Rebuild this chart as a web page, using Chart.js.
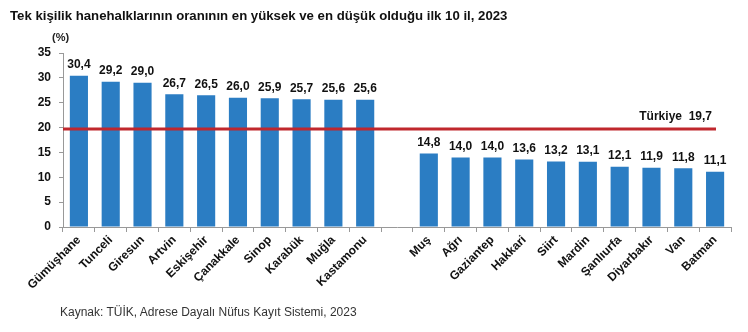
<!DOCTYPE html>
<html lang="tr">
<head>
<meta charset="utf-8">
<title>Tek kişilik hanehalkları</title>
<script src="https://cdn.jsdelivr.net/npm/chart.js@4"></script>
<style>
  html, body { margin:0; padding:0; background:#fff; }
  #wrap { position:relative; width:748px; height:332px; font-family:"Liberation Sans", Arial, sans-serif; }
  #baslik { position:absolute; left:10px; top:8px; font-size:13.2px; font-weight:bold; color:#111; }
  #birim { position:absolute; left:52px; top:31px; font-size:11px; font-weight:bold; color:#222; }
  #kaynak { position:absolute; left:60px; top:305px; font-size:12px; color:#333; }
  canvas { position:absolute; left:0; top:0; }
</style>
</head>
<body>
<div id="wrap">
  <canvas id="ilChart" width="748" height="332"></canvas>
  <div id="baslik">Tek kişilik hanehalklarının oranının en yüksek ve en düşük olduğu ilk 10 il, 2023</div>
  <div id="birim">(%)</div>
  <div id="kaynak">Kaynak: TÜİK, Adrese Dayalı Nüfus Kayıt Sistemi, 2023</div>
</div>
<script>
// en yüksek 10 il, boşluk, en düşük 10 il
const iller = ["Gümüşhane","Tunceli","Giresun","Artvin","Eskişehir","Çanakkale","Sinop","Karabük","Muğla","Kastamonu",
  "",
  "Muş","Ağrı","Gaziantep","Hakkari","Siirt","Mardin","Şanlıurfa","Diyarbakır","Van","Batman"];
const oranlar = [30.4,29.2,29.0,26.7,26.5,26.0,25.9,25.7,25.6,25.6,
  null,
  14.8,14.0,14.0,13.6,13.2,13.1,12.1,11.9,11.8,11.1];
const turkiye = 19.7;
const yTicks = [0,5,10,15,20,25,30,35];

const fmt = v => v.toFixed(1).replace('.', ',');

// değer etiketleri ve Türkiye ortalaması çizgisi
const ekler = {
  id: "ekler",
  afterDatasetsDraw(chart) {
    const ctx = chart.ctx;
    const y = chart.scales.y;
    const meta = chart.getDatasetMeta(0);
    ctx.save();
    ctx.font = "bold 12px 'Liberation Sans', Arial, sans-serif";
    ctx.fillStyle = "#111";
    ctx.textAlign = "center";
    ctx.textBaseline = "bottom";
    meta.data.forEach((bar, i) => {
      if (oranlar[i] == null) return;
      ctx.fillText(fmt(oranlar[i]), bar.x, bar.y - 5);
    });

    const ly = y.getPixelForValue(turkiye);
    ctx.strokeStyle = "#C0272D";
    ctx.lineWidth = 3;
    ctx.beginPath();
    ctx.moveTo(chart.chartArea.left, ly);
    ctx.lineTo(chart.chartArea.right - 15, ly);
    ctx.stroke();

    ctx.font = "bold 12px 'Liberation Sans', Arial, sans-serif";
    ctx.textAlign = "right";
    ctx.fillText("Türkiye  " + fmt(turkiye), chart.chartArea.right - 19, ly - 6);
    ctx.restore();
  }
};

new Chart(document.getElementById("ilChart"), {
  type: "bar",
  data: {
    labels: iller,
    datasets: [{
      data: oranlar,
      backgroundColor: "#2B7DC3",
      barPercentage: 0.57,
      categoryPercentage: 1
    }]
  },
  options: {
    responsive: false,
    animation: false,
    layout: { padding: { left: 0, right: 17, top: 53, bottom: 0 } },
    plugins: { legend: { display: false }, tooltip: { enabled: false } },
    scales: {
      x: {
        grid: { display: true, drawOnChartArea: false, offset: true, tickLength: 5, color: "#999" },
        border: { color: "#999" },
        ticks: {
          autoSkip: false, maxRotation: 45, minRotation: 45, padding: 1,
          color: "#111", font: { family: "'Liberation Sans', Arial, sans-serif", size: 12, weight: "bold" }
        },
        afterFit(scale) { scale.height = 105; }
      },
      y: {
        min: 0, max: 35,
        afterBuildTicks(scale) { scale.ticks = yTicks.map(v => ({ value: v })); },
        grid: { display: true, drawOnChartArea: false, tickLength: 4, color: "#999" },
        border: { color: "#999" },
        ticks: {
          padding: 8, color: "#111",
          font: { family: "'Liberation Sans', Arial, sans-serif", size: 12, weight: "bold" }
        },
        afterFit(scale) { scale.width = 63; }
      }
    }
  },
  plugins: [ekler]
});
</script>
</body>
</html>
